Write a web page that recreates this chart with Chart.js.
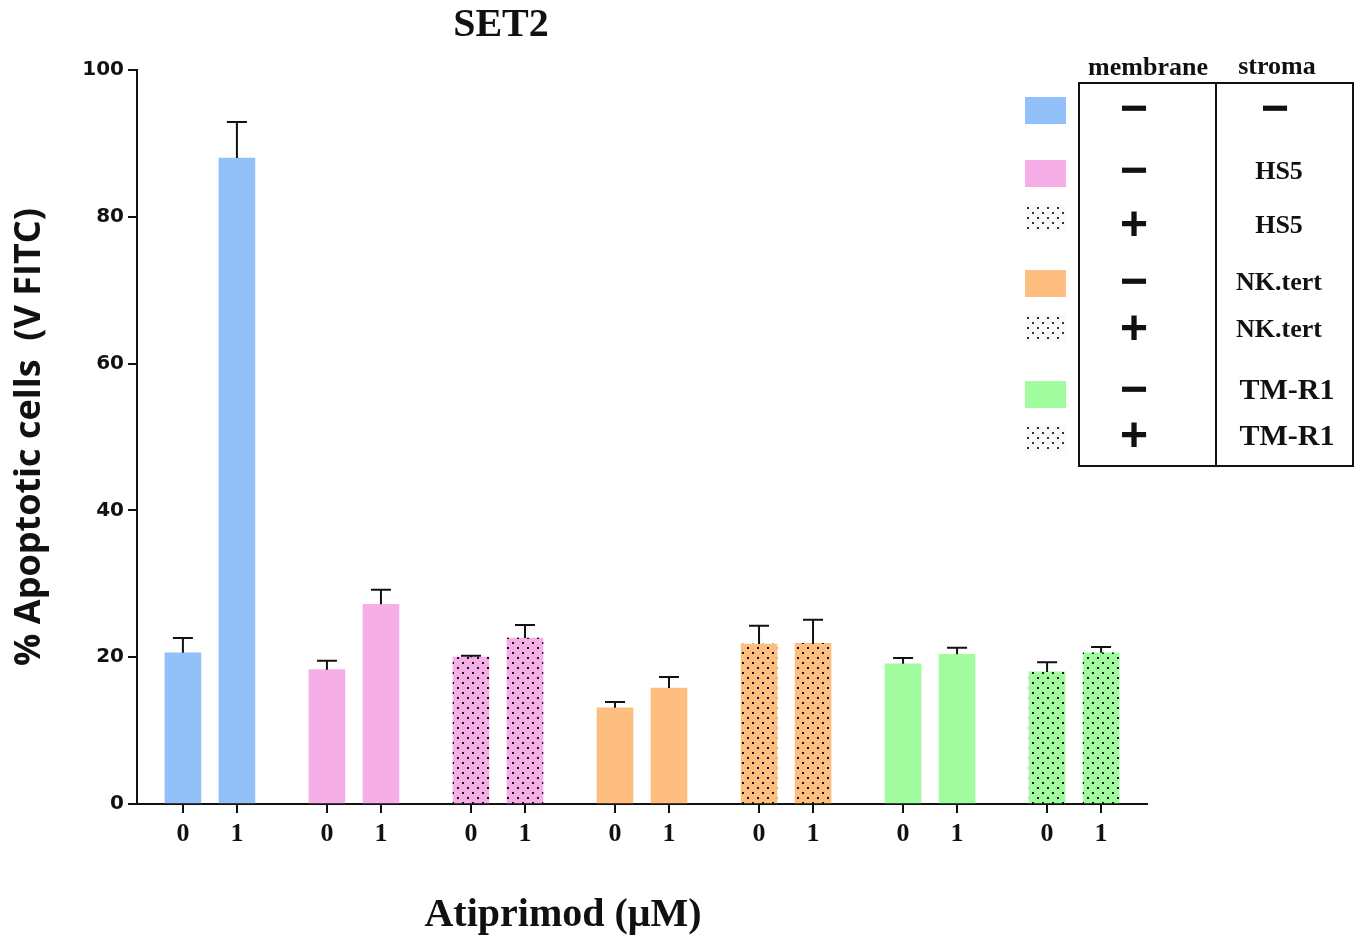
<!DOCTYPE html>
<html lang="en">
<head>
    <meta charset="UTF-8">
    <title>SET2</title>
    <script src="https://cdn.jsdelivr.net/npm/chart.js"></script>
    <style>
        body { margin: 0; background: #fff; }
        #wrap { width: 1362px; height: 939px; }
    </style>
</head>
<body>
<div id="wrap"><canvas id="setChart"></canvas></div>
<script>
// data
var groups = ['none', 'HS5', 'HS5 membrane', 'NK.tert', 'NK.tert membrane', 'TM-R1', 'TM-R1 membrane'];
var doses = ['0', '1'];
var meanValues = [
    [20.6, 88.0],
    [18.3, 27.2],
    [20.0, 22.6],
    [13.1, 15.8],
    [21.8, 21.9],
    [19.1, 20.4],
    [18.0, 20.6]
];
var errValues = [
    [2.0, 4.9],
    [1.2, 2.0],
    [0.2, 1.8],
    [0.8, 1.5],
    [2.5, 3.2],
    [0.8, 0.9],
    [1.3, 0.8]
];
var yTicks = [0, 20, 40, 60, 80, 100];
var legendMembrane = ['\u2212', '\u2212', '+', '\u2212', '+', '\u2212', '+'];
var legendStroma = ['\u2212', 'HS5', 'HS5', 'NK.tert', 'NK.tert', 'TM-R1', 'TM-R1'];

// styles
var baseColors = ['#92c0f8', '#f6aee6', '#f6aee6', '#fdbe7f', '#fdbe7f', '#a0fc9c', '#a0fc9c'];
var dotted = [false, false, true, false, true, false, true];

function dotPattern(bg, dot) {
    var c = document.createElement('canvas');
    c.width = 10; c.height = 10;
    var g = c.getContext('2d');
    g.fillStyle = bg;
    g.fillRect(0, 0, 10, 10);
    g.fillStyle = dot || '#111';
    g.fillRect(2, 2, 2, 2);
    g.fillRect(7, 7, 2, 2);
    return g.createPattern(c, 'repeat');
}
function fillFor(i, bg) {
    return dotted[i] ? dotPattern(bg) : bg;
}

// flatten into bar positions: 8 units per group, 3 units between doses
var points = [], fills = [], errs = [], tickPos = [], tickText = [];
groups.forEach(function (g, gi) {
    doses.forEach(function (d, di) {
        var x = gi * 8 + di * 3;
        points.push({ x: x, y: meanValues[gi][di] });
        errs.push(errValues[gi][di]);
        fills.push(fillFor(gi, baseColors[gi]));
        tickPos.push(x);
        tickText.push(d);
    });
});

var errorBars = {
    id: 'errorBars',
    afterDatasetsDraw: function (chart) {
        var ctx = chart.ctx, y = chart.scales.y;
        var meta = chart.getDatasetMeta(0);
        ctx.save();
        ctx.strokeStyle = '#111';
        ctx.lineWidth = 2;
        meta.data.forEach(function (bar, i) {
            var top = y.getPixelForValue(points[i].y + errs[i]);
            ctx.beginPath();
            ctx.moveTo(bar.x, bar.y);
            ctx.lineTo(bar.x, top);
            ctx.moveTo(bar.x - 10, top);
            ctx.lineTo(bar.x + 10, top);
            ctx.stroke();
        });
        ctx.restore();
    }
};

var extraText = {
    id: 'extraText',
    afterDraw: function (chart) {
        var ctx = chart.ctx;
        ctx.save();
        ctx.fillStyle = '#111';
        ctx.textAlign = 'center';
        ctx.textBaseline = 'alphabetic';
        ctx.font = 'bold 40px "Liberation Serif"';
        ctx.fillText('SET2', 501, 36);
        ctx.fillText('Atiprimod (\u03bcM)', 563, 926);

        // legend table
        var rowY = [110, 172, 226, 283, 330, 391, 437];
        var swY = [110, 173, 218, 283, 328, 394, 438];
        ctx.font = 'bold 26px "Liberation Serif"';
        ctx.fillText('membrane', 1148, 75);
        ctx.fillText('stroma', 1277, 74);
        ctx.lineWidth = 2;
        ctx.strokeStyle = '#111';
        ctx.strokeRect(1079, 83, 274, 383);
        ctx.beginPath();
        ctx.moveTo(1216, 83);
        ctx.lineTo(1216, 466);
        ctx.stroke();
        groups.forEach(function (g, i) {
            ctx.fillStyle = dotted[i] ? dotPattern('#fafafa', '#333') : baseColors[i];
            ctx.fillRect(1025, swY[i] - 13, 41, 27);
            ctx.fillStyle = '#111';
            ctx.textBaseline = 'middle';
            ctx.font = 'bold 48px "Liberation Sans"';
            ctx.fillText(legendMembrane[i], 1134, rowY[i] + 1);
            if (legendStroma[i] === '\u2212') {
                ctx.fillText(legendStroma[i], 1275, rowY[i] + 1);
            } else {
                var big = legendStroma[i].indexOf('TM') === 0;
                ctx.font = 'bold ' + (big ? 30 : 26) + 'px "Liberation Serif"';
                ctx.fillText(legendStroma[i], big ? 1287 : 1279, rowY[i]);
            }
        });
        ctx.restore();
    }
};

var ctx = document.getElementById('setChart').getContext('2d');
var setChart = new Chart(ctx, {
    type: 'bar',
    data: {
        datasets: [{
            data: points,
            backgroundColor: fills,
            borderWidth: 0,
            barThickness: 36
        }]
    },
    options: {
        responsive: true,
        maintainAspectRatio: false,
        animation: false,
        layout: { padding: { top: 70, right: 215, left: 0, bottom: 0 } },
        plugins: {
            legend: { display: false },
            tooltip: { enabled: false },
            title: { display: false }
        },
        scales: {
            x: {
                type: 'linear',
                min: -2.55,
                max: 53.55,
                offset: false,
                afterBuildTicks: function (scale) {
                    scale.ticks = tickPos.map(function (v) { return { value: v }; });
                },
                afterFit: function (scale) { scale.height = 135; },
                ticks: {
                    autoSkip: false,
                    maxRotation: 0,
                    padding: 6,
                    color: '#111',
                    font: { family: '"Liberation Serif"', size: 26, weight: 'bold' },
                    callback: function (v, i) { return tickText[i]; }
                },
                grid: { offset: false, drawOnChartArea: false, tickLength: 9, color: '#111', lineWidth: 2 },
                border: { color: '#111', width: 2 }
            },
            y: {
                min: 0,
                max: 100,
                afterBuildTicks: function (scale) {
                    scale.ticks = yTicks.map(function (v) { return { value: v }; });
                },
                afterFit: function (scale) { scale.width = 137; },
                ticks: {
                    padding: 4,
                    color: '#111',
                    font: { family: '"DejaVu Sans"', size: 20, weight: 'bold' }
                },
                grid: { drawOnChartArea: false, tickLength: 9, color: '#111', lineWidth: 2 },
                border: { color: '#111', width: 2 },
                title: {
                    display: true,
                    text: '% Apoptotic cells  (V FITC)',
                    color: '#111',
                    padding: { top: 8, bottom: 0 },
                    font: { family: '"Open Sans"', size: 36, weight: 'bold' }
                }
            }
        }
    },
    plugins: [errorBars, extraText]
});
</script>
</body>
</html>
